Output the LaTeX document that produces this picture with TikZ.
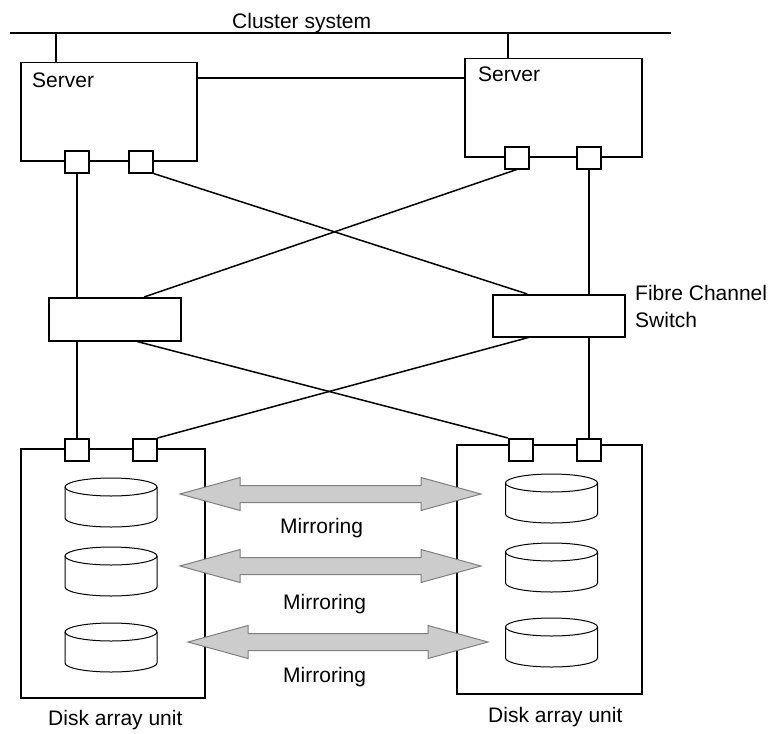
\documentclass[tikz,border=0pt]{standalone}
\usepackage{fontspec}
\setmainfont{Liberation Sans}
\usetikzlibrary{calc}
\newlength{\du}
\setlength{\du}{1pt}
\definecolor{dialinecolor}{rgb}{0.000000, 0.000000, 0.000000}
\definecolor{mirrorgray}{rgb}{0.800000, 0.800000, 0.800000}
\definecolor{mirroredge}{rgb}{0.500000, 0.500000, 0.500000}
\tikzset{
  unitbox/.style={draw=dialinecolor, fill=white, line width=1.5\du, inner sep=0pt, anchor=north west},
  portbox/.style={unitbox, minimum width=24\du, minimum height=22\du},
  caption/.style={anchor=base west, inner sep=0pt, font=\fontsize{21}{25}\selectfont},
  wire/.style={draw=dialinecolor, line width=1.5\du},
  drumline/.style={draw=dialinecolor, line width=1.0\du},
  mirrorfill/.style={fill=mirrorgray, draw=mirroredge, line width=1.0\du, line join=miter},
}
% disk drum: centre x, top y
\newcommand{\drum}[2]{
\begin{scope}[shift={(#1\du,#2\du)}]
\draw[drumline] (0\du,9\du) ellipse [x radius=46\du, y radius=9\du];
\draw[drumline] (-46\du,9\du)--(-46\du,40\du) arc [start angle=180, end angle=0, x radius=46\du, y radius=9\du]--(46\du,9\du);
\end{scope}
}
% mirroring arrow: left tip x, right tip x, y
\newcommand{\mirrorarrow}[3]{
\filldraw[mirrorfill] (#1\du,#3\du)--(#1\du+60\du,#3\du-16.5\du)--(#1\du+60\du,#3\du-8.5\du)
  --(#2\du-60\du,#3\du-8.5\du)--(#2\du-60\du,#3\du-16.5\du)--(#2\du,#3\du)
  --(#2\du-60\du,#3\du+16.5\du)--(#2\du-60\du,#3\du+8.5\du)--(#1\du+60\du,#3\du+8.5\du)
  --(#1\du+60\du,#3\du+16.5\du)--cycle;
}

\begin{document}
\begin{tikzpicture}
\pgftransformxscale{1.000000}
\pgftransformyscale{-1.000000}
\useasboundingbox (0\du,0\du) rectangle (775\du,733\du);
% cluster bus
\coordinate (busW) at (10\du,33\du);
\coordinate (busE) at (671\du,33\du);
\draw[wire] (busW)--(busE);
\node[caption] (cluster) at (232\du,29\du){Cluster system};
% servers
\node[unitbox, minimum width=176\du, minimum height=98\du] (srv1) at (20\du,62\du){};
\node[unitbox, minimum width=177\du, minimum height=98\du] (srv2) at (464\du,58\du){};
\node[caption] (srv1txt) at (32\du,88\du){Server};
\node[caption] (srv2txt) at (478\du,82\du){Server};
\coordinate (tap1) at (56\du,33\du);
\coordinate (tap2) at (508\du,33\du);
\draw[wire] (tap1)--(tap1 |- srv1.north);
\draw[wire] (tap2)--(tap2 |- srv2.north);
\coordinate (link1) at (196\du,78\du);
\draw[wire] (link1)--(link1 -| srv2.west);
\node[portbox] (p11) at (64\du,150\du){};
\node[portbox] (p12) at (128\du,150\du){};
\node[portbox] (p21) at (504\du,146\du){};
\node[portbox] (p22) at (576\du,146\du){};
% fibre channel switches
\node[unitbox, minimum width=132\du, minimum height=43\du] (fcs1) at (48\du,297\du){};
\node[unitbox, minimum width=132\du, minimum height=42\du] (fcs2) at (492\du,294\du){};
\node[caption] (fcstxt1) at (635\du,300\du){Fibre Channel};
\node[caption] (fcstxt2) at (635\du,327\du){Switch};
% disk array units
\node[unitbox, minimum width=184\du, minimum height=249\du] (dau1) at (20\du,448\du){};
\node[unitbox, minimum width=185\du, minimum height=249\du] (dau2) at (456\du,444\du){};
\node[portbox] (q11) at (64\du,438\du){};
\node[portbox] (q12) at (132\du,438\du){};
\node[portbox] (q21) at (508\du,438\du){};
\node[portbox] (q22) at (576\du,438\du){};
\node[caption] (dau1txt) at (48\du,725\du){Disk array unit};
\node[caption] (dau2txt) at (488\du,722\du){Disk array unit};
% server to switch
\draw[wire] (p11.south)--(p11.south |- fcs1.north);
\draw[wire] (p12.south east)--($(fcs2.north west)!0.265!(fcs2.north east)$);
\draw[wire] (p21.south)--($(fcs1.north west)!0.72!(fcs1.north east)$);
\draw[wire] (p22.south)--(p22.south |- fcs2.north);
% switch to disk array
\draw[wire] (q11.north |- fcs1.south)--(q11.north);
\draw[wire] ($(fcs1.south west)!0.667!(fcs1.south east)$)--(q21.north west);
\draw[wire] ($(fcs2.south west)!0.273!(fcs2.south east)$)--(q12.north east);
\draw[wire] (q22.north |- fcs2.south)--(q22.north);
% disks
\drum{111}{478}
\drum{111}{547}
\drum{111}{623}
\drum{551.5}{474}
\drum{551.5}{543}
\drum{551.5}{618}
% mirroring
\mirrorarrow{180}{481}{494}
\mirrorarrow{180}{481}{566}
\mirrorarrow{188}{488}{642}
\node[caption] (mir1) at (280\du,533\du){Mirroring};
\node[caption] (mir2) at (283\du,609\du){Mirroring};
\node[caption] (mir3) at (283\du,682\du){Mirroring};
\end{tikzpicture}
\end{document}
